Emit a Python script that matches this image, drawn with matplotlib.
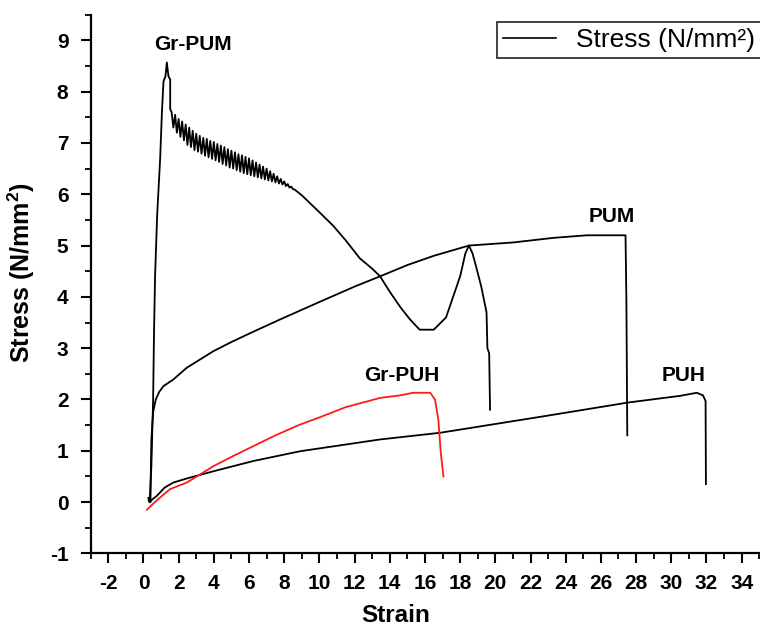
import matplotlib
matplotlib.use("Agg")
import matplotlib.pyplot as plt
from matplotlib.ticker import MultipleLocator
from matplotlib.lines import Line2D

plt.rcParams['font.family'] = ['Liberation Sans', 'DejaVu Sans']
plt.rcParams['mathtext.fontset'] = 'custom'
plt.rcParams['mathtext.rm'] = 'Liberation Sans'
plt.rcParams['mathtext.bf'] = 'Liberation Sans:bold'
plt.rcParams['axes.unicode_minus'] = False

# ---- data ----
gr_pum_x = [0.28, 0.35, 0.45, 0.55, 0.60, 0.66, 0.78, 0.95, 1.05, 1.14, 1.25, 1.33, 1.42, 1.52, 1.52,
            1.6, 1.7, 1.8, 1.9, 2.0, 2.1, 2.2, 2.3, 2.4, 2.5, 2.6, 2.7, 2.8, 2.9, 3.0, 3.1, 3.2, 3.3,
            3.4, 3.5, 3.6, 3.7, 3.8, 3.9, 4.0, 4.1, 4.2, 4.3, 4.4, 4.5, 4.6, 4.7, 4.8, 4.9, 5.0, 5.1,
            5.2, 5.3, 5.4, 5.5, 5.6, 5.7, 5.8, 5.9, 6.0, 6.1, 6.2, 6.3, 6.4, 6.5, 6.6, 6.7, 6.8, 6.9,
            7.0, 7.1, 7.2, 7.3, 7.4, 7.5, 7.6, 7.7, 7.8, 7.9, 8.0, 8.1, 8.2, 8.3, 8.4, 8.5, 8.6,
            9.0, 10.0, 10.8, 11.5, 12.3, 13.0, 13.45, 14.0, 14.6, 15.15, 15.7, 16.5, 17.2, 17.6, 18.0,
            18.3, 18.5, 18.7, 18.9, 19.2, 19.5, 19.55, 19.65, 19.7]
gr_pum_y = [0.08, 0.0, 0.7, 2.0, 3.3, 4.4, 5.6, 6.7, 7.6, 8.2, 8.3, 8.57, 8.3, 8.24, 7.66,
            7.60, 7.30, 7.55, 7.20, 7.47, 7.12, 7.42, 7.05, 7.36, 6.96, 7.30, 6.92, 7.24, 6.86, 7.18,
            6.83, 7.14, 6.79, 7.10, 6.75, 7.08, 6.72, 7.04, 6.69, 7.02, 6.66, 6.98, 6.63, 6.95, 6.59,
            6.92, 6.56, 6.88, 6.52, 6.85, 6.50, 6.82, 6.47, 6.78, 6.44, 6.76, 6.41, 6.73, 6.39, 6.70,
            6.37, 6.66, 6.35, 6.62, 6.33, 6.58, 6.31, 6.54, 6.29, 6.50, 6.27, 6.45, 6.25, 6.40, 6.23,
            6.35, 6.21, 6.30, 6.19, 6.25, 6.16, 6.20, 6.13, 6.15, 6.10, 6.09,
            5.98, 5.65, 5.38, 5.1, 4.75, 4.55, 4.4, 4.1, 3.8, 3.56, 3.36, 3.36, 3.6, 4.0, 4.4,
            4.85, 5.0, 4.85, 4.6, 4.2, 3.7, 3.0, 2.9, 1.8]

pum_x = [0.3, 0.4, 0.42, 0.45, 0.5, 0.55, 0.7, 0.9, 1.14, 1.7, 2.47, 3.97, 5.0, 6.24, 7.77, 10.0,
         12.0, 13.45, 15.0, 16.5, 18.5, 21.0, 23.3, 25.2, 27.4, 27.45, 27.5]
pum_y = [0.05, 0.0, 0.6, 1.2, 1.5, 1.75, 2.0, 2.15, 2.26, 2.39, 2.62, 2.94, 3.12, 3.32, 3.56, 3.9,
         4.2, 4.4, 4.62, 4.8, 5.0, 5.06, 5.15, 5.2, 5.2, 3.9, 1.3]

gr_puh_x = [0.2, 0.5, 0.95, 1.5, 2.47, 3.98, 5.0, 6.25, 7.5, 8.9, 10.0, 11.5, 13.45, 14.6, 15.34,
            16.3, 16.57, 16.76, 16.9, 17.05]
gr_puh_y = [-0.15, -0.05, 0.09, 0.25, 0.38, 0.7, 0.88, 1.09, 1.3, 1.51, 1.65, 1.85, 2.03, 2.08, 2.13,
            2.13, 2.0, 1.61, 0.96, 0.5]

puh_x = [0.35, 0.5, 0.76, 1.2, 1.7, 2.47, 3.98, 6.25, 8.9, 13.45, 16.86, 22.9, 27.55, 30.5, 31.45,
         31.8, 31.95, 31.97]
puh_y = [0.0, 0.05, 0.12, 0.28, 0.38, 0.46, 0.6, 0.8, 0.99, 1.22, 1.35, 1.68, 1.94, 2.07, 2.13,
         2.08, 1.97, 0.35]

labels = ["Gr-PUM", "PUM", "Gr-PUH", "PUH"]
label_x = [2.82, 26.6, 14.7, 30.7]
label_y = [8.92, 5.56, 2.46, 2.46]

x_ticks = list(range(-2, 35, 2))
y_ticks = list(range(-1, 10))

# ---- figure ----
fig = plt.figure(figsize=(7.6, 6.27), dpi=100)
ax = fig.add_axes([0.1193, 0.1175, 0.8797, 0.859])

lw = 1.3
ax.plot(gr_pum_x, gr_pum_y, color='black', lw=lw)
ax.plot(pum_x, pum_y, color='black', lw=lw)
ax.plot(puh_x, puh_y, color='black', lw=lw)
ax.plot(gr_puh_x, gr_puh_y, color='#ff1a1a', lw=lw)

for t, x, y in zip(labels, label_x, label_y):
    ax.text(x, y, t, ha='center', va='center', fontsize=15, fontweight='bold')

ax.set_xlim(-3, 35)
ax.set_ylim(-1, 9.5)
ax.set_xticks(x_ticks)
ax.set_yticks(y_ticks)
ax.xaxis.set_minor_locator(MultipleLocator(1))
ax.yaxis.set_minor_locator(MultipleLocator(0.5))

for s in ['top', 'right']:
    ax.spines[s].set_visible(False)
for s in ['left', 'bottom']:
    ax.spines[s].set_linewidth(1.6)

ax.tick_params(which='major', direction='out', length=7.5, width=1.5, labelsize=15)
ax.tick_params(which='minor', direction='out', length=4.2, width=1.3)
ax.tick_params(axis='x', which='major', pad=7.5)
ax.tick_params(axis='y', which='major', pad=8.5)
for lab in ax.get_xticklabels() + ax.get_yticklabels():
    lab.set_fontweight('bold')

ax.set_xlabel('Strain', fontsize=17.5, fontweight='bold')
ax.set_ylabel(r'Stress (N/mm$\mathbf{^2}$)', fontsize=18, fontweight='bold')
ax.xaxis.set_label_coords(0.457, -0.095)
ax.yaxis.set_label_coords(-0.080, 0.522)

handle = Line2D([], [], color='black', lw=1.2)
leg = ax.legend([handle], ['Stress (N/mm²)'], loc='upper right',
                bbox_to_anchor=(1.0025, 0.987), fontsize=19, frameon=True, fancybox=False,
                handlelength=2.0, borderpad=0.24, handletextpad=0.75, borderaxespad=0.0)
leg.get_frame().set_edgecolor('black')
leg.get_frame().set_linewidth(1.3)

fig.savefig('out.png', dpi=100)
